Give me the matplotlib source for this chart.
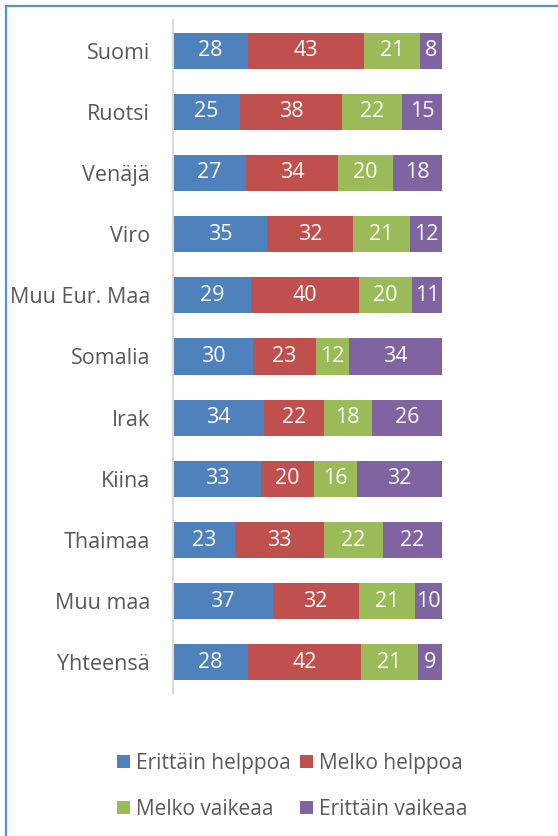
import matplotlib
matplotlib.use("Agg")
import matplotlib.pyplot as plt
from matplotlib.patches import Rectangle
import numpy as np

categories = ["Suomi", "Ruotsi", "Venäjä", "Viro", "Muu Eur. Maa", "Somalia",
              "Irak", "Kiina", "Thaimaa", "Muu maa", "Yhteensä"]
series_names = ["Erittäin helppoa", "Melko helppoa", "Melko vaikeaa", "Erittäin vaikeaa"]
erittain_helppoa = [28, 25, 27.3, 35, 29, 29.8, 34, 32.6, 23, 37, 28]
melko_helppoa = [43, 38, 34.0, 32, 40, 23.4, 22, 19.7, 33, 32, 42]
melko_vaikeaa = [21, 22, 20.4, 21, 20, 12.3, 18, 16.0, 22, 21, 21]
erittain_vaikeaa = [8, 15, 18.3, 12, 11, 34.5, 26, 31.7, 22, 10, 9]
colors = ["#4f81bd", "#c0504d", "#9bbb59", "#8064a2"]

plt.rcParams['font.family'] = ['Open Sans', 'DejaVu Sans']
TXT = "#595959"

W, H = 558, 836
fig = plt.figure(figsize=(W / 100, H / 100), dpi=100)

# chart-area border (only left and top visible in the crop)
fig.patches.append(Rectangle((6 / W, -0.1), 1.2, 1.1 - 6 / H, transform=fig.transFigure,
                             fill=False, edgecolor="#5b8fd6", linewidth=1.6))

ax = fig.add_axes([173 / W, 1 - 693 / H, (442 - 173) / W, (693 - 20) / H])
series = [erittain_helppoa, melko_helppoa, melko_vaikeaa, erittain_vaikeaa]
y = np.arange(len(categories))
left = np.zeros(len(categories))
for vals, col in zip(series, colors):
    vals = np.array(vals, dtype=float)
    bars = ax.barh(y, vals, left=left, height=0.59, color=col, edgecolor="none")
    ax.bar_label(bars, labels=[f"{v:.0f}" for v in vals], label_type="center",
                 color="white", fontsize=15.5)
    left += vals

ax.set_xlim(0, 100)
ax.set_ylim(len(categories) - 0.5, -0.5)
ax.set_yticks(y)
ax.set_yticklabels(categories, fontsize=15.5, color=TXT)
ax.tick_params(axis="y", length=0, pad=16.5)
ax.set_xticks([])
for s in ["top", "right", "bottom"]:
    ax.spines[s].set_visible(False)
ax.spines["left"].set_color("#d9d9d9")
ax.spines["left"].set_linewidth(1.5)

# legend, two rows of two entries
leg_x = [117, 300]
leg_y = [761, 807]
for i, (name, col) in enumerate(zip(series_names, colors)):
    r, c = divmod(i, 2)
    x0, yc = leg_x[c], leg_y[r]
    fig.patches.append(Rectangle((x0 / W, 1 - (yc + 6.5) / H), 13 / W, 13 / H,
                                 transform=fig.transFigure, facecolor=col, edgecolor="none"))
    fig.text((x0 + 19) / W, 1 - yc / H, name, fontsize=15, color=TXT,
             ha="left", va="center_baseline")

fig.savefig("out.png", dpi=100)
